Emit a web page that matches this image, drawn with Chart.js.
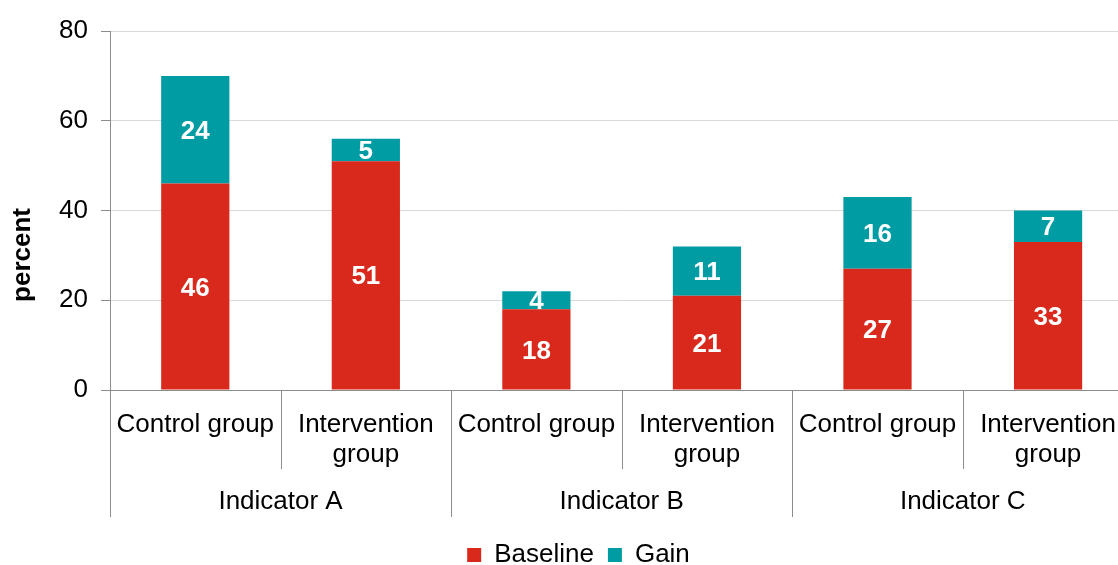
<!DOCTYPE html>
<html>
<head>
<meta charset="utf-8">
<script src="https://cdn.jsdelivr.net/npm/chart.js@4.4.1/dist/chart.umd.min.js"></script>
<style>
html,body{margin:0;padding:0;background:#fff;overflow:hidden;}
#wrap{position:relative;width:1136px;height:582px;}
</style>
</head>
<body>
<div id="wrap"><canvas id="c" width="1136" height="582"></canvas></div>
<script>
const categories = [["Control group"], ["Intervention", "group"], ["Control group"], ["Intervention", "group"], ["Control group"], ["Intervention", "group"]];
const groups = ["Indicator A", "Indicator B", "Indicator C"];
const baseline = [46, 51, 18, 21, 27, 33];
const gain = [24, 5, 4, 11, 16, 7];
const yTicks = [0, 20, 40, 60, 80];
const yTitle = "percent";

const RED = '#D9291C';
const TEAL = '#009CA4';
const AXIS = '#8c8c8c';
const FONT = "'Liberation Sans', Arial, sans-serif";

const labelPlugin = {
  id: 'extras',
  afterDatasetsDraw(chart) {
    const ctx = chart.ctx;
    ctx.save();
    ctx.fillStyle = '#fff';
    ctx.font = 'bold 26px ' + FONT;
    ctx.textAlign = 'center';
    ctx.textBaseline = 'middle';
    chart.data.datasets.forEach((ds, di) => {
      const meta = chart.getDatasetMeta(di);
      meta.data.forEach((bar, i) => {
        const p = bar.getProps(['x', 'y', 'base'], true);
        ctx.fillText(String(ds.data[i]), p.x, (p.y + p.base) / 2 + 2);
      });
    });
    ctx.restore();
  },
  afterDraw(chart) {
    const ctx = chart.ctx;
    const xs = chart.scales.x;
    const n = categories.length;
    const cw = xs.width / n;
    const bottom = chart.chartArea.bottom;
    ctx.save();
    ctx.strokeStyle = AXIS;
    ctx.lineWidth = 1;
    for (let i = 0; i <= n; i++) {
      const x = Math.round(xs.left + i * cw) + 0.5;
      const long = (i % 2 === 0);
      ctx.beginPath();
      ctx.moveTo(x, bottom);
      ctx.lineTo(x, bottom + (long ? 127 : 79));
      ctx.stroke();
    }
    ctx.fillStyle = '#000';
    ctx.font = '26px ' + FONT;
    ctx.textAlign = 'center';
    ctx.textBaseline = 'middle';
    groups.forEach((g, gi) => {
      const cx = xs.left + (gi * 2 + 1) * cw;
      ctx.fillText(g, cx, bottom + 112);
    });
    // y title
    ctx.font = 'bold 26px ' + FONT;
    ctx.translate(23, 255);
    ctx.rotate(-Math.PI / 2);
    ctx.fillText(yTitle, 0, 0);
    ctx.restore();
  }
};

new Chart(document.getElementById('c'), {
  type: 'bar',
  data: {
    labels: categories,
    datasets: [
      { label: 'Baseline', data: baseline, backgroundColor: RED, borderWidth: 0 },
      { label: 'Gain', data: gain, backgroundColor: TEAL, borderWidth: 0 }
    ]
  },
  options: {
    responsive: false,
    animation: false,
    devicePixelRatio: 1,
    layout: { padding: { top: 31, left: 21, right: 0, bottom: 4 } },
    datasets: { bar: { categoryPercentage: 1.0, barPercentage: 0.4 } },
    plugins: {
      legend: {
        position: 'bottom',
        labels: {
          boxWidth: 14, boxHeight: 14, padding: 14,
          color: '#000',
          font: { family: FONT, size: 26 },
          useBorderRadius: false
        }
      },
      tooltip: { enabled: false }
    },
    scales: {
      x: {
        stacked: true,
        offset: true,
        grid: { display: false, drawTicks: false },
        border: { display: true, color: AXIS, width: 1 },
        ticks: {
          color: '#000',
          font: { family: FONT, size: 26, lineHeight: 1.154 },
          padding: 20,
          maxRotation: 0, minRotation: 0, autoSkip: false
        },
        afterFit(scale) { scale.height = 138; }
      },
      y: {
        stacked: true,
        min: 0, max: 80,
        afterBuildTicks(scale) { scale.ticks = yTicks.map(v => ({ value: v })); },
        grid: { color: '#d9d9d9', tickColor: AXIS, tickLength: 9, lineWidth: 1 },
        border: { display: true, color: AXIS, width: 1 },
        ticks: {
          color: '#000',
          font: { family: FONT, size: 26 },
          padding: 13
        },
        afterFit(scale) { scale.width = 89; }
      }
    }
  },
  plugins: [labelPlugin]
});
</script>
</body>
</html>
